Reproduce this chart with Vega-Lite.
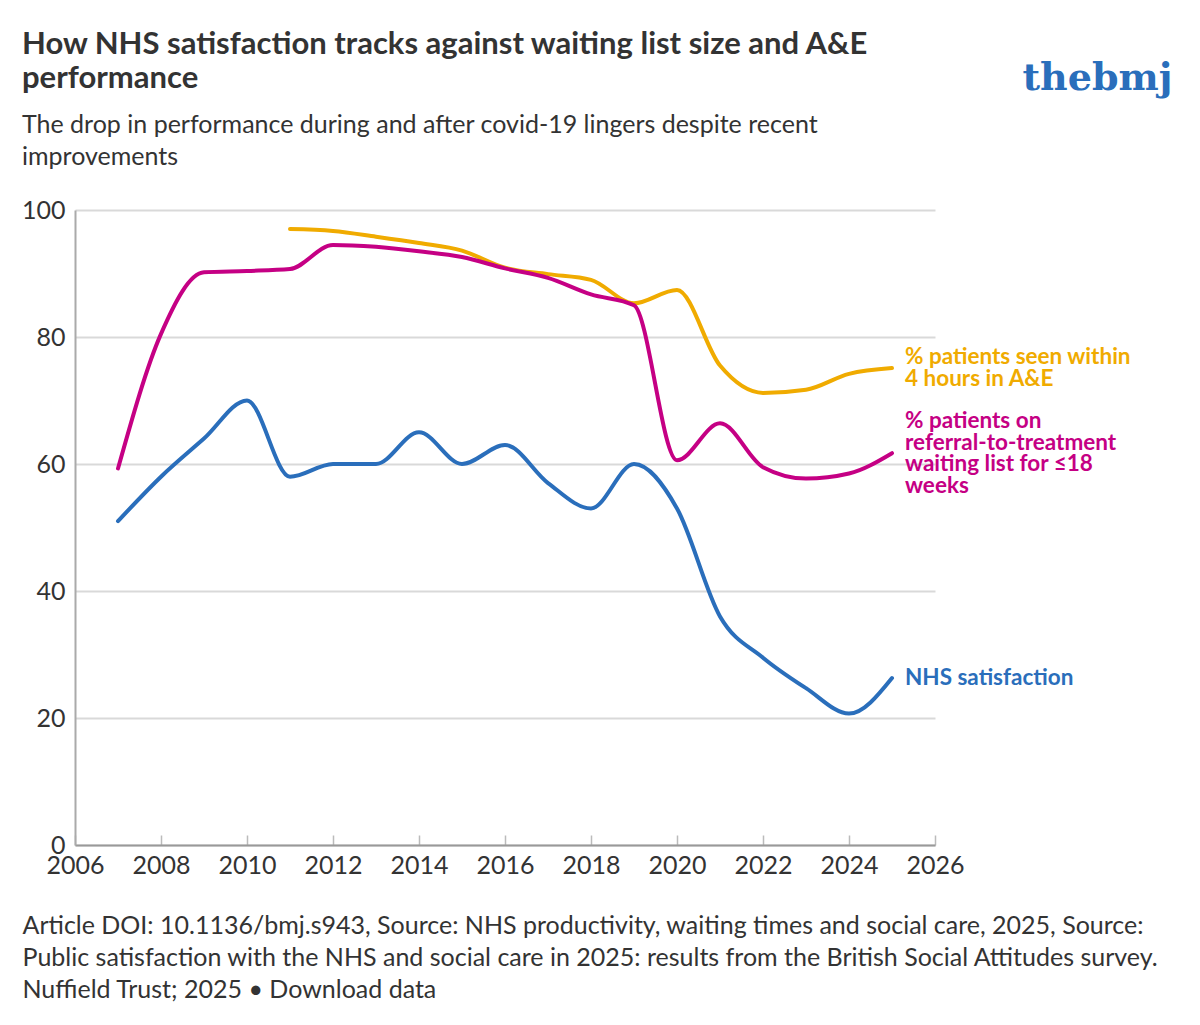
{
  "$schema": "https://vega.github.io/schema/vega-lite/v6.json",
  "width": 860,
  "height": 635,
  "autosize": "none",
  "padding": {"left": 75, "top": 210, "right": 265, "bottom": 180},
  "background": "white",
  "config": {"view": {"stroke": null}, "font": "Lato"},
  "title": {
    "text": ["How NHS satisfaction tracks against waiting list size and A&E", "performance"],
    "subtitle": ["The drop in performance during and after covid-19 lingers despite recent", "improvements"],
    "anchor": "start",
    "frame": "group",
    "dx": -53,
    "offset": -112,
    "font": "Lato",
    "fontSize": 31,
    "fontWeight": "bold",
    "color": "#333333",
    "lineHeight": 34,
    "subtitleFont": "Lato",
    "subtitleFontSize": 25,
    "subtitleColor": "#333333",
    "subtitleLineHeight": 32,
    "subtitlePadding": 18
  },
  "data": {
    "values": [
      {"series": "A&E", "year": 2011, "value": 97.0},
      {"series": "A&E", "year": 2012, "value": 96.7},
      {"series": "A&E", "year": 2013, "value": 95.8},
      {"series": "A&E", "year": 2014, "value": 94.8},
      {"series": "A&E", "year": 2015, "value": 93.6},
      {"series": "A&E", "year": 2016, "value": 90.9},
      {"series": "A&E", "year": 2017, "value": 89.9},
      {"series": "A&E", "year": 2018, "value": 89.0},
      {"series": "A&E", "year": 2019, "value": 85.3},
      {"series": "A&E", "year": 2020, "value": 87.4},
      {"series": "A&E", "year": 2021, "value": 75.5},
      {"series": "A&E", "year": 2022, "value": 71.2},
      {"series": "A&E", "year": 2023, "value": 71.7},
      {"series": "A&E", "year": 2024, "value": 74.2},
      {"series": "A&E", "year": 2025, "value": 75.1, "label": "% patients seen within\n4 hours in A&E"},
      {"series": "RTT", "year": 2007, "value": 59.3},
      {"series": "RTT", "year": 2008, "value": 80.5},
      {"series": "RTT", "year": 2009, "value": 90.2},
      {"series": "RTT", "year": 2010, "value": 90.4},
      {"series": "RTT", "year": 2011, "value": 90.7},
      {"series": "RTT", "year": 2012, "value": 94.5},
      {"series": "RTT", "year": 2013, "value": 94.2},
      {"series": "RTT", "year": 2014, "value": 93.5},
      {"series": "RTT", "year": 2015, "value": 92.6},
      {"series": "RTT", "year": 2016, "value": 90.8},
      {"series": "RTT", "year": 2017, "value": 89.3},
      {"series": "RTT", "year": 2018, "value": 86.7},
      {"series": "RTT", "year": 2019, "value": 85.0},
      {"series": "RTT", "year": 2020, "value": 60.6},
      {"series": "RTT", "year": 2021, "value": 66.4},
      {"series": "RTT", "year": 2022, "value": 59.5},
      {"series": "RTT", "year": 2023, "value": 57.7},
      {"series": "RTT", "year": 2024, "value": 58.5},
      {"series": "RTT", "year": 2025, "value": 61.7, "label": "% patients on\nreferral-to-treatment\nwaiting list for ≤18\nweeks"},
      {"series": "Satisfaction", "year": 2007, "value": 51.0},
      {"series": "Satisfaction", "year": 2008, "value": 58.0},
      {"series": "Satisfaction", "year": 2009, "value": 64.0},
      {"series": "Satisfaction", "year": 2010, "value": 70.0},
      {"series": "Satisfaction", "year": 2011, "value": 58.0},
      {"series": "Satisfaction", "year": 2012, "value": 60.0},
      {"series": "Satisfaction", "year": 2013, "value": 60.0},
      {"series": "Satisfaction", "year": 2014, "value": 65.0},
      {"series": "Satisfaction", "year": 2015, "value": 60.0},
      {"series": "Satisfaction", "year": 2016, "value": 63.0},
      {"series": "Satisfaction", "year": 2017, "value": 57.0},
      {"series": "Satisfaction", "year": 2018, "value": 53.0},
      {"series": "Satisfaction", "year": 2019, "value": 60.0},
      {"series": "Satisfaction", "year": 2020, "value": 53.0},
      {"series": "Satisfaction", "year": 2021, "value": 36.0},
      {"series": "Satisfaction", "year": 2022, "value": 29.5},
      {"series": "Satisfaction", "year": 2023, "value": 24.7},
      {"series": "Satisfaction", "year": 2024, "value": 20.7},
      {"series": "Satisfaction", "year": 2025, "value": 26.3, "label": "NHS satisfaction"}
    ]
  },
  "encoding": {
    "x": {
      "field": "year",
      "type": "quantitative",
      "scale": {"domain": [2006, 2026], "nice": false, "zero": false},
      "axis": {
        "values": [2006, 2008, 2010, 2012, 2014, 2016, 2018, 2020, 2022, 2024, 2026],
        "format": "d",
        "grid": false,
        "labelFont": "Lato",
        "labelFontSize": 25,
        "labelColor": "#333333",
        "labelPadding": 18,
        "labelFlush": false,
        "domainColor": "#999999",
        "domainWidth": 2,
        "tickColor": "#bbbbbb",
        "tickWidth": 1.5,
        "tickSize": -10,
        "title": [
          "Article DOI: 10.1136/bmj.s943, Source: NHS productivity, waiting times and social care, 2025, Source:",
          "Public satisfaction with the NHS and social care in 2025: results from the British Social Attitudes survey.",
          "Nuffield Trust; 2025 • Download data"
        ],
        "titleFont": "Lato",
        "titleFontSize": 25,
        "titleFontWeight": "normal",
        "titleColor": "#333333",
        "titleAnchor": "start",
        "titleAlign": "left",
        "titleBaseline": "top",
        "titleLineHeight": 32,
        "titleX": -53,
        "titleY": 68
      }
    },
    "y": {
      "field": "value",
      "type": "quantitative",
      "scale": {"domain": [0, 100], "nice": false},
      "axis": {
        "values": [0, 20, 40, 60, 80, 100],
        "grid": true,
        "gridColor": "#d9d9d9",
        "gridWidth": 2,
        "domain": true,
        "domainColor": "#aaaaaa",
        "domainWidth": 2,
        "ticks": false,
        "labelFont": "Lato",
        "labelFontSize": 25,
        "labelColor": "#333333",
        "labelPadding": 10,
        "title": "thebmj",
        "titleFont": "DejaVu Serif",
        "titleFontSize": 38,
        "titleFontWeight": "bold",
        "titleColor": "#2A6EBB",
        "titleAngle": 0,
        "titleAlign": "center",
        "titleBaseline": "middle",
        "titleX": 1022,
        "titleY": -132
      }
    },
    "color": {
      "field": "series",
      "type": "nominal",
      "scale": {"domain": ["A&E", "RTT", "Satisfaction"], "range": ["#F0AB00", "#C50084", "#2A6EBB"]},
      "legend": null
    }
  },
  "layer": [
    {
      "mark": {"type": "line", "interpolate": "monotone", "strokeWidth": 4, "strokeCap": "round", "clip": false}
    },
    {
      "transform": [{"filter": "isValid(datum.label) && datum.series == 'A&E'"}],
      "mark": {"type": "text", "align": "left", "baseline": "middle", "dx": 13, "dy": -11, "font": "Lato", "fontSize": 22.5, "fontWeight": "bold", "lineBreak": "\n", "lineHeight": 21.5},
      "encoding": {"text": {"field": "label"}}
    },
    {
      "transform": [{"filter": "isValid(datum.label) && datum.series == 'RTT'"}],
      "mark": {"type": "text", "align": "left", "baseline": "middle", "dx": 13, "dy": -32, "font": "Lato", "fontSize": 22.5, "fontWeight": "bold", "lineBreak": "\n", "lineHeight": 21.5},
      "encoding": {"text": {"field": "label"}}
    },
    {
      "transform": [{"filter": "isValid(datum.label) && datum.series == 'Satisfaction'"}],
      "mark": {"type": "text", "align": "left", "baseline": "middle", "dx": 13, "font": "Lato", "fontSize": 22.5, "fontWeight": "bold", "lineBreak": "\n", "lineHeight": 21.5},
      "encoding": {"text": {"field": "label"}}
    }
  ]
}
